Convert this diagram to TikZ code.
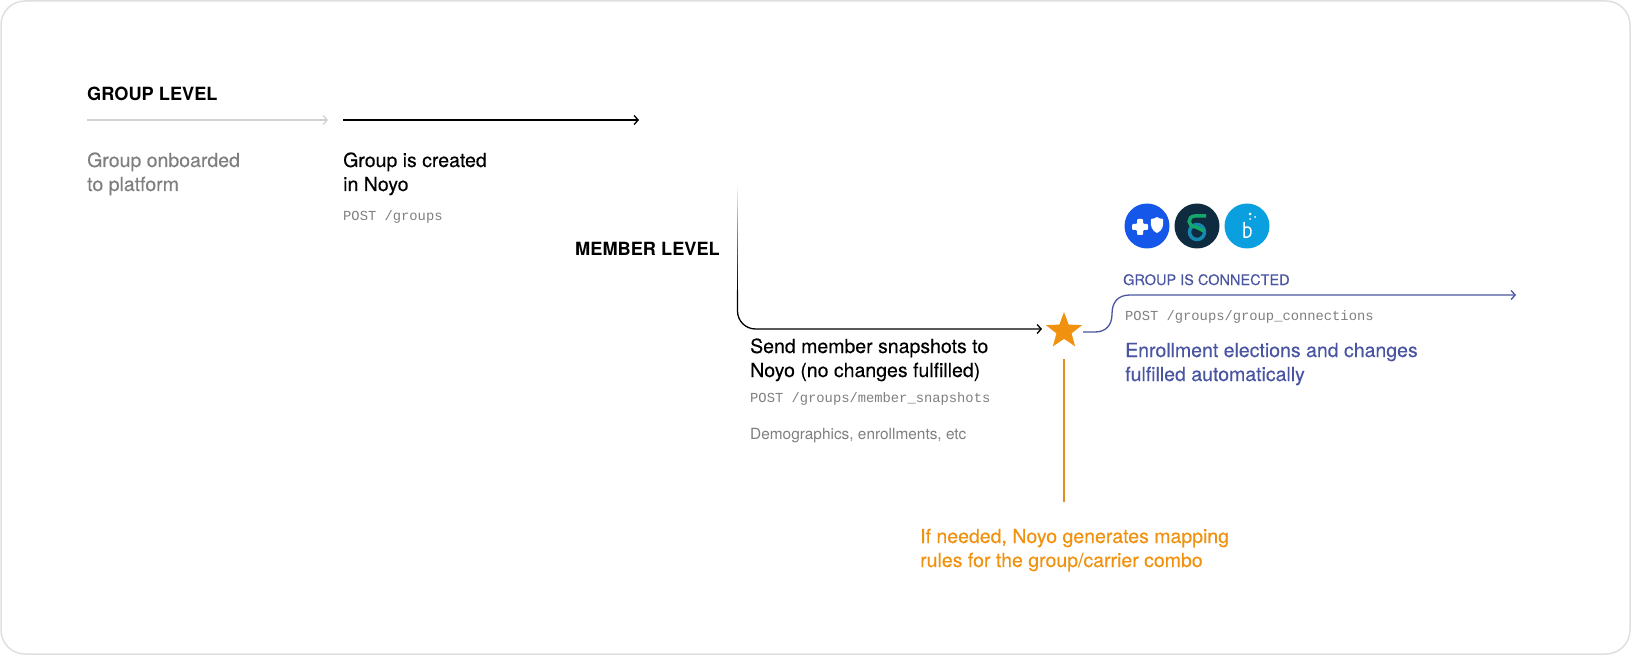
\documentclass[tikz,border=0pt]{standalone}
\usepackage{fontspec}
\setmainfont{TeX Gyre Heros}
\setmonofont{Liberation Mono}
\newfontfamily\mediumfont[FakeBold=0.25]{TeX Gyre Heros}
\usepackage{tikz}
\usetikzlibrary{positioning, shapes.geometric, arrows.meta}
\definecolor{noyoblue}{HTML}{4A55A2}
\definecolor{noyoorange}{HTML}{F0920F}
\definecolor{noyogray}{HTML}{7F7F7F}
\definecolor{logoblue}{HTML}{1557E8}
\definecolor{logonavy}{HTML}{0F2B3F}
\definecolor{logocyan}{HTML}{0AA0E0}
\definecolor{logogreen}{HTML}{14A86B}
\definecolor{logoteal}{HTML}{1488B0}
\tikzset{
    >={Straight Barb[length=4pt,width=9pt]},
    head/.style={inner sep=0pt, anchor=base west, font=\fontsize{18.2}{24}\selectfont\bfseries},
    body/.style={inner sep=0pt, anchor=base west, align=left, font=\fontsize{19.5}{24}\mediumfont},
    api/.style={inner sep=0pt, anchor=base west, text=noyogray, font=\fontsize{13.8}{16}\ttfamily},
    note/.style={inner sep=0pt, anchor=base west, text=noyogray, font=\fontsize{15.4}{16}\selectfont},
    flow/.style={->, line width=1.3pt},
    logo/.style={circle, minimum size=45pt, inner sep=0pt},
}
\begin{document}
\begin{tikzpicture}[x=1pt, y=-1pt]
        \useasboundingbox (0,0) rectangle (1631,655);
        \draw[gray!25, line width=1.5pt, rounded corners=24pt] (1,1) rectangle (1630,654);
        % group level
        \node [head] (grouplevel) at (87,101) {GROUP LEVEL};
        \coordinate (graystart) at (87,120);
        \coordinate (grayend) at (328,120);
        \coordinate (createstart) at (343,120);
        \coordinate (createend) at (639,120);
        \draw[flow, gray!35] (graystart) -- (grayend);
        \draw[flow, black] (createstart) -- (createend);
        \node [body, text=noyogray] (onboarded) at (87,191) {Group onboarded\\to platform};
        \node [body] (created) at (343,191) {Group is created\\in Noyo};
        \node [api] (postgroups) at (343,221) {POST /groups};
        % member level
        \node [head] (memberlevel) at (575,255) {MEMBER LEVEL};
        \node [star, star points=5, star point ratio=2.4, fill=noyoorange, minimum size=38pt, inner sep=0pt] (star) at (1064,331) {};
        \coordinate (membertop) at (737.5,290);
        \coordinate (memberend) at (1042,329);
        \foreach \i in {0,...,19}
            \draw[black!\the\numexpr\i*5+5\relax, line width=1.3pt] (737.5,187+\i*5.2) -- (737.5,192.2+\i*5.2);
        \draw[flow, black, rounded corners=18pt] (membertop) |- (memberend);
        \node [body] (snapshots) at (750,377) {Send member snapshots to\\Noyo (no changes fulfilled)};
        \node [api] (postsnapshots) at (750,402) {POST /groups/member\_snapshots};
        \node [note] (demographics) at (750,439) {Demographics, enrollments, etc};
        % mapping rules
        \coordinate (ruletop) at (1064,359);
        \coordinate (rulebottom) at (1064,502);
        \draw[noyoorange!85!gray, line width=2pt] (ruletop) -- (rulebottom);
        \node [body, text=noyoorange] (mapping) at (920,567) {If needed, Noyo generates mapping\\rules for the group/carrier combo};
        % connected
        \node [logo, fill=logoblue] (bluelogo) at (1147,226) {};
        \node [logo, fill=logonavy] (greenlogo) at (1197,226) {};
        \node [logo, fill=logocyan] (brightlogo) at (1247,226) {};
        \fill[white, rounded corners=1pt] (1132,224) -- (1137,224) -- (1137,219) -- (1143,219) -- (1143,224) -- (1148,224) -- (1148,230) -- (1143,230) -- (1143,235) -- (1137,235) -- (1137,230) -- (1132,230) -- cycle;
        \fill[white] (1151,219) .. controls (1154,219) and (1155,218) .. (1157,217) .. controls (1159,218) and (1160,219) .. (1163,219) .. controls (1164,226) and (1162,231) .. (1157,233) .. controls (1152,231) and (1150,226) .. (1151,219) -- cycle;
        \draw[logoteal, line width=3.5pt] (1197,232) circle (7.5pt);
        \draw[logogreen, line width=3.5pt] (1206,216) -- (1195,216) .. controls (1187,216) and (1187,227) .. (1196,227) -- (1204,231);
        \draw[white, line width=1.5pt] (1244,222) -- (1244,237) .. controls (1250,238) and (1251,235) .. (1251,231) .. controls (1251,227) and (1247,226) .. (1244,228);
        \fill[white] (1250,214) circle (1.5pt) (1255,217) circle (1pt) (1250,219) circle (1pt);
        \node [inner sep=0pt, anchor=base west, text=noyoblue, font=\fontsize{14.5}{16}\mediumfont] (connected) at (1123,285) {GROUP IS CONNECTED};
        \coordinate (bluestart) at (1083,332);
        \coordinate (blueend) at (1516,295);
        \draw[flow, noyoblue] (bluestart) -- (1095,332) .. controls (1106,332) and (1112,325) .. (1112,314) .. controls (1112,302) and (1118,295) .. (1130,295) -- (blueend);
        \node [api] (postconnections) at (1125,320) {POST /groups/group\_connections};
        \node [body, text=noyoblue] (fulfilled) at (1125,381) {Enrollment elections and changes\\fulfilled automatically};
    \end{tikzpicture}
\end{document}
